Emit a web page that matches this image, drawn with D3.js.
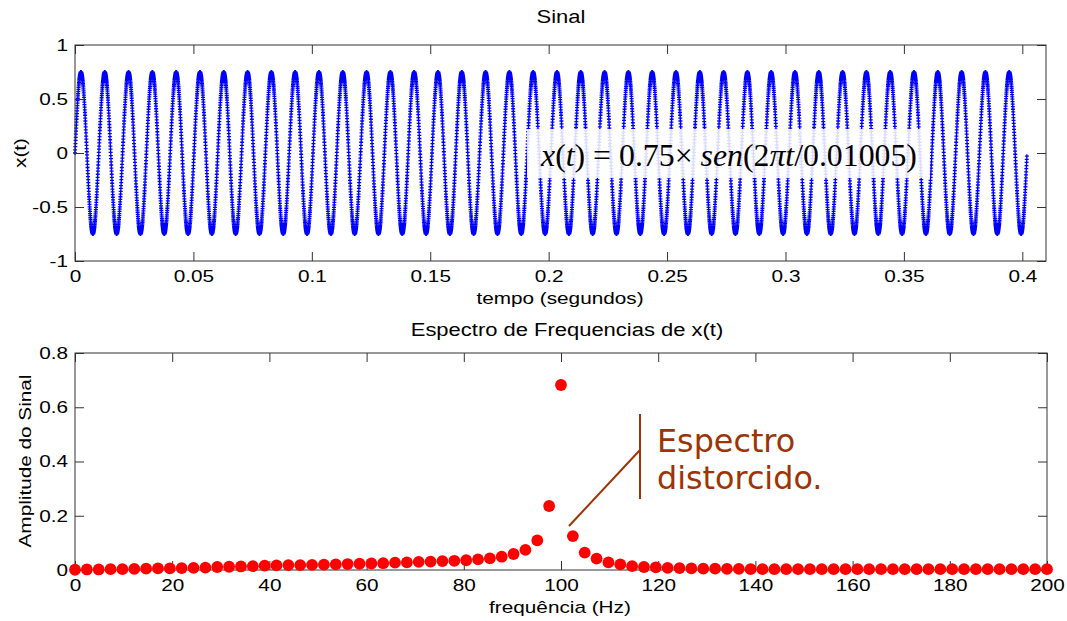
<!DOCTYPE html>
<html>
<head>
<meta charset="utf-8">
<script src="https://cdn.jsdelivr.net/npm/d3@7"></script>
<style>
  html, body { margin: 0; padding: 0; background: #fff; }
  svg { display: block; }
  .tick text { font-family: "Liberation Sans", Arial, sans-serif; font-size: 17px; fill: #000; }
  .tick line { stroke: #333; stroke-width: 1; }
  .lbl { font-family: "Liberation Sans", Arial, sans-serif; font-size: 17px; fill: #000; }
  .ttl { font-family: "Liberation Sans", Arial, sans-serif; font-size: 18px; fill: #000; }
</style>
</head>
<body>
<svg id="fig" width="1067" height="621"></svg>
<script>
// ---- Signal parameters, as written in the equation on the plot ----
const signalAmplitude = 0.75;
const signalPeriod = 0.01005;      // seconds
const sampleRate = 16000;          // samples per second
const cyclesShown = 40;

// ---- Axis ticks ----
const timeTicks = [0, 0.05, 0.1, 0.15, 0.2, 0.25, 0.3, 0.35, 0.4];
const timeTickLabels = ["0", "0.05", "0.1", "0.15", "0.2", "0.25", "0.3", "0.35", "0.4"];
const signalTicks = [-1, -0.5, 0, 0.5, 1];
const signalTickLabels = ["-1", "-0.5", "0", "0.5", "1"];
const freqTicks = [0, 20, 40, 60, 80, 100, 120, 140, 160, 180, 200];
const ampTicks = [0, 0.2, 0.4, 0.6, 0.8];
const ampTickLabels = ["0", "0.2", "0.4", "0.6", "0.8"];

// ---- Spectrum: frequency bins (Hz) and amplitudes ----
const frequencies = [
  0, 2.44, 4.88, 7.32, 9.76, 12.2, 14.63, 17.07, 19.51, 21.95,
  24.39, 26.83, 29.27, 31.71, 34.15, 36.59, 39.02, 41.46, 43.9, 46.34,
  48.78, 51.22, 53.66, 56.1, 58.54, 60.98, 63.41, 65.85, 68.29, 70.73,
  73.17, 75.61, 78.05, 80.49, 82.93, 85.37, 87.8, 90.24, 92.68, 95.12,
  97.56, 100, 102.44, 104.88, 107.32, 109.76, 112.2, 114.63, 117.07, 119.51,
  121.95, 124.39, 126.83, 129.27, 131.71, 134.15, 136.59, 139.02, 141.46, 143.9,
  146.34, 148.78, 151.22, 153.66, 156.1, 158.54, 160.98, 163.41, 165.85, 168.29,
  170.73, 173.17, 175.61, 178.05, 180.49, 182.93, 185.37, 187.8, 190.24, 192.68,
  195.12, 197.56, 200
];
const amplitudes = [
  0.001, 0.002, 0.002, 0.003, 0.003, 0.004, 0.005, 0.006, 0.006, 0.007,
  0.008, 0.009, 0.011, 0.012, 0.013, 0.014, 0.016, 0.017, 0.018, 0.018,
  0.019, 0.020, 0.021, 0.022, 0.023, 0.024, 0.025, 0.027, 0.028, 0.030,
  0.031, 0.033, 0.034, 0.036, 0.039, 0.043, 0.049, 0.059, 0.074, 0.109,
  0.236, 0.682, 0.125, 0.064, 0.042, 0.028, 0.021, 0.014, 0.011, 0.010,
  0.008, 0.007, 0.006, 0.005, 0.005, 0.004, 0.004, 0.003, 0.003, 0.003,
  0.003, 0.003, 0.003, 0.003, 0.003, 0.003, 0.003, 0.003, 0.003, 0.003,
  0.003, 0.003, 0.003, 0.003, 0.003, 0.003, 0.003, 0.003, 0.003, 0.003,
  0.003, 0.003, 0.003
];

// ---- Sampled signal x(t) = 0.75 * sen(2*pi*t / 0.01005) ----
const nSamples = Math.round(cyclesShown * signalPeriod * sampleRate);
const signal = d3.range(nSamples).map(i => {
  const t = i / sampleRate;
  return { t, v: signalAmplitude * Math.sin(2 * Math.PI * t / signalPeriod) };
});

const svg = d3.select("#fig");
const TEXT_STRETCH = 1.22;   // figure text is set wide

function widen(sel) {
  sel.each(function () {
    const w = this.getComputedTextLength();
    if (w > 0) {
      this.setAttribute("textLength", (w * TEXT_STRETCH).toFixed(2));
      this.setAttribute("lengthAdjust", "spacingAndGlyphs");
    }
  });
  return sel;
}

function frame(g, x, y, xTicks, xFmt, yTicks, yFmt) {
  const [x0, x1] = x.range();
  const [y1, y0] = y.range();
  g.append("g").attr("transform", `translate(0,${y1})`)
    .call(d3.axisBottom(x).tickValues(xTicks).tickFormat(xFmt).tickSizeInner(-9).tickSizeOuter(0).tickPadding(9))
    .call(a => a.select(".domain").remove())
    .call(a => widen(a.selectAll("text")));
  g.append("g").attr("transform", `translate(0,${y0})`)
    .call(d3.axisTop(x).tickValues(xTicks).tickFormat("").tickSizeInner(-9).tickSizeOuter(0))
    .call(a => a.select(".domain").remove());
  g.append("g").attr("transform", `translate(${x0},0)`)
    .call(d3.axisLeft(y).tickValues(yTicks).tickFormat(yFmt).tickSizeInner(-9).tickSizeOuter(0).tickPadding(7))
    .call(a => a.select(".domain").remove())
    .call(a => widen(a.selectAll("text")));
  g.append("g").attr("transform", `translate(${x1},0)`)
    .call(d3.axisRight(y).tickValues(yTicks).tickFormat("").tickSizeInner(-9).tickSizeOuter(0))
    .call(a => a.select(".domain").remove());
  g.append("rect")
    .attr("x", x0).attr("y", y0).attr("width", x1 - x0).attr("height", y1 - y0)
    .attr("fill", "none").attr("stroke", "#333").attr("stroke-width", 1);
}

// ================= Top panel: time signal =================
const xT = d3.scaleLinear().domain([0, 0.41]).range([75, 1046]);
const yT = d3.scaleLinear().domain([-1, 1]).range([261, 45]);
const gTop = svg.append("g");

// asterisk-like markers for every sample
let markerPath = "";
signal.forEach(d => {
  const px = xT(d.t), py = yT(d.v);
  markerPath += `M${(px - 2).toFixed(2)},${py.toFixed(2)}h4M${px.toFixed(2)},${(py - 2).toFixed(2)}v4`;
});
gTop.append("path").attr("d", markerPath)
  .attr("stroke", "#0000ff").attr("stroke-width", 1.3).attr("fill", "none");

frame(gTop, xT, yT, timeTicks, (d, i) => timeTickLabels[i], signalTicks, (d, i) => signalTickLabels[i]);

// equation box
gTop.append("rect").attr("x", 527).attr("y", 129).attr("width", 403).attr("height", 49)
  .attr("fill", "#fff").attr("fill-opacity", 0.86);
const eq = gTop.append("text").attr("x", 541).attr("y", 166)
  .attr("font-family", '"Liberation Serif", "Times New Roman", serif')
  .attr("font-size", 31.8).attr("fill", "#000");
[["x", true], ["(", false], ["t", true], [") = 0.75\u00d7", false], [" sen", true],
 ["(2", false], ["\u03c0t", true], ["/0.01005)", false]].forEach(([s, it]) => {
  eq.append("tspan").attr("font-style", it ? "italic" : "normal").text(s);
});

widen(svg.append("text").attr("class", "ttl").attr("x", 561).attr("y", 23)
  .attr("text-anchor", "middle").text("Sinal"));
widen(svg.append("text").attr("class", "lbl").attr("x", 560).attr("y", 304)
  .attr("text-anchor", "middle").text("tempo (segundos)"));
widen(svg.append("text").attr("class", "lbl")
  .attr("transform", "translate(26,153) rotate(-90)")
  .attr("text-anchor", "middle").text("x(t)"));

// ================= Bottom panel: spectrum =================
const xF = d3.scaleLinear().domain([0, 200]).range([75, 1047]);
const yF = d3.scaleLinear().domain([0, 0.8]).range([570, 353]);
const gBot = svg.append("g");

frame(gBot, xF, yF, freqTicks, d3.format("d"), ampTicks, (d, i) => ampTickLabels[i]);

gBot.append("g").selectAll("circle")
  .data(frequencies.map((f, i) => ({ f, a: amplitudes[i] })))
  .join("circle")
  .attr("cx", d => xF(d.f)).attr("cy", d => yF(d.a)).attr("r", 5.9)
  .attr("fill", "#ff0000");

widen(svg.append("text").attr("class", "ttl").attr("x", 567).attr("y", 336)
  .attr("text-anchor", "middle").text("Espectro de Frequencias de x(t)"));
widen(svg.append("text").attr("class", "lbl").attr("x", 560).attr("y", 613)
  .attr("text-anchor", "middle").text("frequência (Hz)"));
widen(svg.append("text").attr("class", "lbl")
  .attr("transform", "translate(31,461) rotate(-90)")
  .attr("text-anchor", "middle").text("Amplitude do Sinal"));

// annotation
const brown = "#9c3406";
svg.append("line").attr("x1", 640).attr("y1", 414).attr("x2", 640).attr("y2", 499)
  .attr("stroke", brown).attr("stroke-width", 2);
svg.append("line").attr("x1", 569).attr("y1", 526).attr("x2", 640).attr("y2", 450)
  .attr("stroke", brown).attr("stroke-width", 2);
const note = svg.append("text").attr("font-family", '"DejaVu Sans", Verdana, sans-serif')
  .attr("font-size", 31.8).attr("fill", brown);
note.append("tspan").attr("x", 657).attr("y", 452).text("Espectro");
note.append("tspan").attr("x", 657).attr("y", 489).text("distorcido.");
</script>
</body>
</html>
